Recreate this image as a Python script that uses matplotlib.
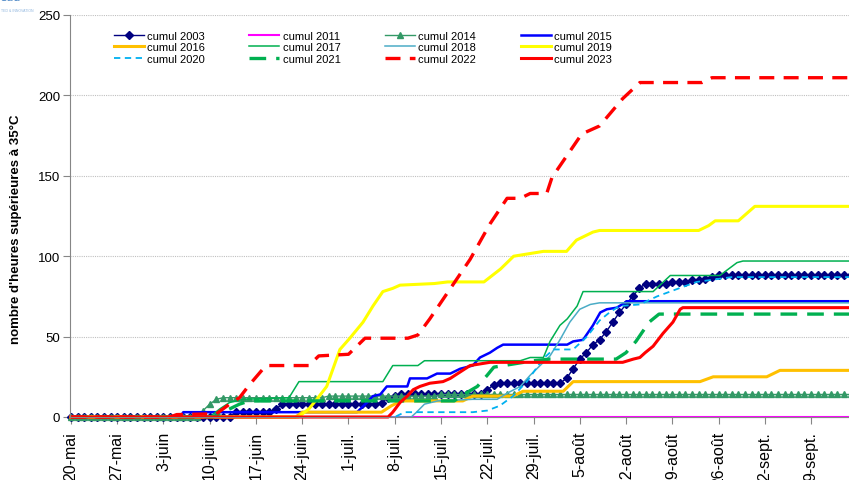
import numpy as np
import matplotlib
matplotlib.use("Agg")
import matplotlib.pyplot as plt

plt.rcParams['font.family'] = ['Liberation Sans', 'DejaVu Sans']

# x = days since 20 May
week_labels = ["20-mai", "27-mai", "3-juin", "10-juin", "17-juin", "24-juin",
               "1-juil.", "8-juil.", "15-juil.", "22-juil.", "29-juil.",
               "5-août", "12-août", "19-août", "26-août", "2-sept.", "9-sept."]

# daily series (markers every day)
days_daily = list(range(119))
v2003 = ([0] * 25 + [3] * 6 + [5] + [8] * 15 + [9, 12, 13] + [14] * 13 + [17, 20] + [21] * 10
         + [24, 30, 36, 40, 45, 48, 53, 59, 65, 70, 75, 80, 83, 83, 83, 83, 84, 84, 84, 85, 85, 86, 87]
         + [88] * 21)
v2014 = [0] * 20 + [4, 8, 11] + [12] * 16 + [13] * 17 + [14] * 63

# series read at their break points
d2011 = [0, 118]
v2011 = [0, 0]

d2015 = [0, 16.5, 17, 43.3, 44.8, 45.7, 46.8, 47.8, 50.9, 51.3, 53.9, 55.4, 57.4, 58.9, 60.8,
         61.9, 63.4, 64.5, 65.4, 75.1, 76, 77.5, 79, 80.1, 81.1, 82.6, 84.2, 118]
v2015 = [0, 0, 3, 3, 9, 13, 14, 19, 19, 24, 24, 27, 27, 30, 32,
         37, 40, 43, 45, 45, 47, 48, 57, 65, 67, 68, 72, 72]

d2016 = [0, 34, 35, 47, 48.5, 50, 59.3, 60.8, 66.9, 68.4, 74.5, 76, 95.2, 97.2, 105.3, 106.3, 107.3, 118]
v2016 = [0, 0, 3, 3, 7, 10, 10, 13, 13, 16, 16, 22, 22, 25, 25, 27, 29, 29]

d2017 = [0, 21, 22.5, 24, 26, 33, 34.5, 47.2, 48.7, 52.5, 53.5, 68, 69.5, 71.5, 72.5, 74, 75.1,
         76.6, 77.5, 88.1, 90.7, 98.2, 100.8, 101.7, 118]
v2017 = [0, 0, 5, 9, 11, 12, 22, 22, 32, 32, 35, 35, 37, 37, 47, 57, 61,
         69, 78, 78, 88, 88, 96, 97, 97]

d2018 = [0, 51.5, 52.3, 53.5, 55.5, 60.8, 64.5, 66.1, 68, 69.5, 71, 72.5, 74, 75.5, 77, 78.6, 80, 118]
v2018 = [0, 0, 3, 8, 10, 11, 11, 15, 19, 26, 32, 38, 48, 59, 67, 70, 71, 71]

d2019 = [0, 34.4, 36, 37.2, 38.7, 40.7, 42.2, 44.2, 45.7, 47.2, 48.7, 49.8, 55, 57, 62.5, 65, 67,
         71.5, 75, 76.5, 79, 80, 95, 96.5, 97.5, 101, 103.5, 118]
v2019 = [0, 0, 5, 11, 19, 42, 49, 59, 69, 78, 80, 82, 83, 84, 84, 92, 100,
         103, 103, 110, 115, 116, 116, 119, 122, 122, 131, 131]

d2020 = [0, 49, 50.5, 60.8, 63, 64.9, 66.9, 69, 71.4, 73, 76, 78.1, 80, 81.5, 83, 86.1, 88.7,
         92, 94.7, 98.2, 100, 118]
v2020 = [0, 0, 3, 3, 4, 7, 13, 22, 36, 42, 42, 50, 60, 65, 69, 70, 75,
         80, 84, 86, 87, 87]

d2021 = [0, 21.5, 23, 25.5, 27, 58, 59, 61.5, 63, 64, 65.5, 70, 72.5, 82.5, 84, 85.5, 87.5, 89, 118]
v2021 = [0, 0, 3, 8, 10, 10, 13, 19, 26, 31, 32, 35, 36, 36, 40, 47, 59, 64, 64]

d2022 = [0, 15, 16, 22, 24, 25.5, 27, 29.5, 36, 37.5, 42, 44.5, 51, 52.5, 54.3, 60.4, 63.4, 66,
         68, 69.5, 72, 72.8, 77.3, 80, 83.5, 86.1, 95.5, 97, 118]
v2022 = [0, 0, 1.5, 2, 8, 12, 20, 32, 32, 38, 39, 49, 49, 51, 61, 98, 120, 136,
         136, 139, 139, 149, 176, 181, 198, 208, 208, 211, 211]

d2023 = [0, 48, 48.7, 49.8, 50.9, 51.8, 52.8, 54.3, 56.3, 57.4, 58.9, 60.4, 63.4, 83.5, 85.1,
         86.1, 86.9, 88.1, 89.6, 91.1, 92.2, 92.6, 118]
v2023 = [0, 0, 3, 9, 13, 17, 19, 21, 22, 24, 28, 32, 34, 34, 36,
         37, 40, 44, 52, 59, 67, 68, 68]

fig = plt.figure(figsize=(8.49, 4.81), dpi=100)
ax = fig.add_axes([70 / 849, 63 / 481, 779 / 849, 402 / 481])

handles = []
def add(x, y, label, **kw):
    ln, = ax.plot(x, y, label=label, clip_on=False, **kw)
    handles.append(ln)

add(days_daily, v2003, "cumul 2003", color="#000080", lw=1, marker="D", ms=4)
add(d2011, v2011, "cumul 2011", color="#ff00ff", lw=1.5)
add(days_daily, v2014, "cumul 2014", color="#339966", lw=1, marker="^", ms=5)
add(d2015, v2015, "cumul 2015", color="#0000ff", lw=1.8)
add(d2016, v2016, "cumul 2016", color="#ffc000", lw=2.2)
add(d2017, v2017, "cumul 2017", color="#00b050", lw=1.1)
add(d2018, v2018, "cumul 2018", color="#4bacc6", lw=1.1)
add(d2019, v2019, "cumul 2019", color="#ffff00", lw=2.2)
add(d2020, v2020, "cumul 2020", color="#00b0f0", lw=1.3, linestyle=(0, (3.5, 2.5)))
add(d2021, v2021, "cumul 2021", color="#00b050", lw=2.4, linestyle=(0, (5, 3)))
add(d2022, v2022, "cumul 2022", color="#ff0000", lw=2.4, linestyle=(0, (4.5, 2.8)))
add(d2023, v2023, "cumul 2023", color="#ff0000", lw=2.2)

ax.set_xlim(-0.15, 117.75)
ax.set_ylim(0, 250)
ax.set_xticks(np.arange(0, 113, 7))
ax.set_xticklabels(week_labels, rotation=90, fontsize=11.5, va="top")
ax.set_yticks(np.arange(0, 251, 50))
ax.tick_params(axis="y", labelsize=9.5, length=5, color="#868686", pad=2)
ax.tick_params(axis="x", length=5, color="#868686", pad=5)

for s in ["top", "right"]:
    ax.spines[s].set_visible(False)
ax.spines["left"].set_color("#868686")
ax.spines["bottom"].set_color("#868686")

ax.yaxis.grid(True, linestyle=(0, (1, 1)), color="#c0c0c0", lw=0.8)
ax.set_axisbelow(True)

ax.set_ylabel("nombre d'heures supérieures à 35°C", fontsize=9.5, fontweight="bold")
ax.yaxis.set_label_coords(-0.062, 0.47)

order = [i for c in range(4) for i in (c, c + 4, c + 8)]
fig.legend([handles[i] for i in order], [handles[i].get_label() for i in order],
           ncol=4, loc="upper left", bbox_to_anchor=(108 / 849, 1 - 26 / 481),
           frameon=False, fontsize=8, handlelength=2.7, handletextpad=0.3,
           columnspacing=4.0, labelspacing=0.15, borderpad=0, numpoints=1)

fig.text(0.001, 1.004, "sud", color="#4a86c5", fontsize=9, va="center", ha="left")
fig.text(0.001, 0.978, "TED & INNOVATION", color="#8fb6de", fontsize=2.5, va="center", ha="left")

fig.savefig("out.png", dpi=100)
